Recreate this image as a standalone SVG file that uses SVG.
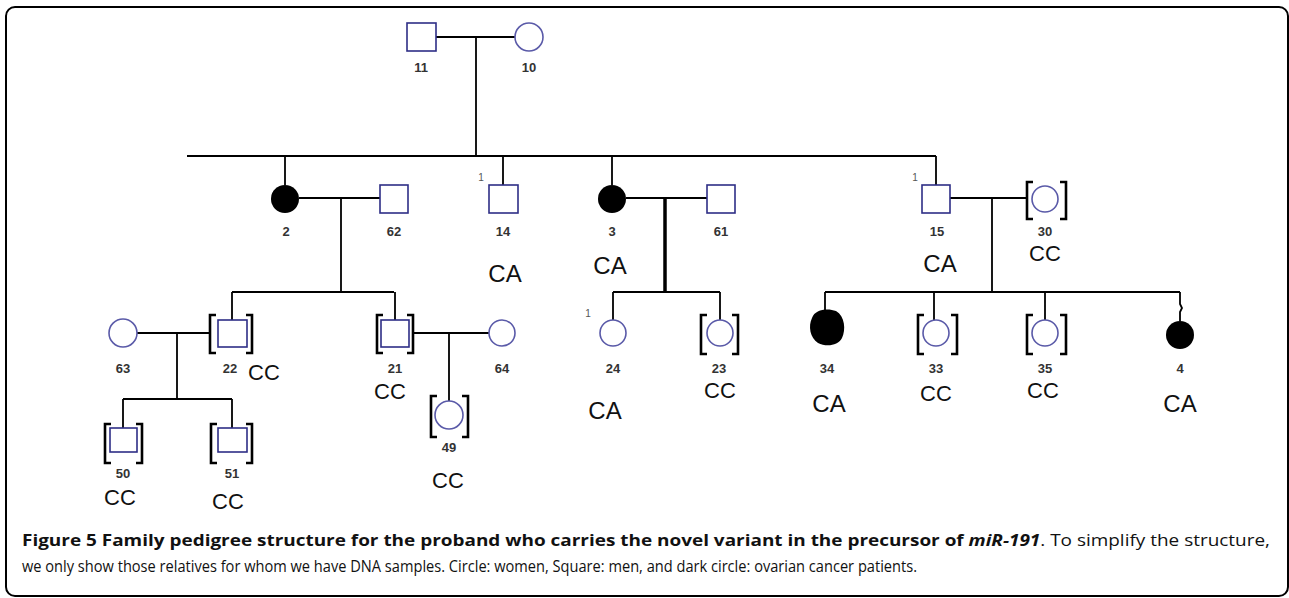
<svg xmlns="http://www.w3.org/2000/svg" width="1289" height="598" viewBox="0 0 1289 598">
<style>
.sq{fill:#fff;stroke:#2e2e86;stroke-width:1.6}
.ci{fill:#fff;stroke:#5a5aa8;stroke-width:1.6}
.aff{fill:#000}
.br{fill:none;stroke:#000;stroke-width:2.6}
.ln{fill:none;stroke:#000;stroke-width:1.8}
.num{font-family:"Liberation Sans",Arial,sans-serif;font-weight:bold;font-size:13px;fill:#333;text-anchor:middle}
.gt{font-family:"Liberation Sans",Arial,sans-serif;font-size:24px;fill:#111;text-anchor:middle}
.gc{font-family:"Liberation Sans",Arial,sans-serif;font-size:22px;fill:#111;text-anchor:middle}
.tick{font-family:"Liberation Sans",Arial,sans-serif;font-size:10px;fill:#555;text-anchor:middle}
.cap{font-family:"Open Sans","Noto Sans",sans-serif;font-size:16.5px;fill:#111}
</style>
<rect x="6" y="7" width="1282" height="589" rx="9" fill="none" stroke="#000" stroke-width="2"/>
<g id="connectors">
<path class="ln" d="M436 37H515M476 37V156M187 156H936"/>
<path class="ln" d="M285 156V185M503 156V185M612 156V185M936 156V185"/>
<path class="ln" d="M299 198H380M341 198V292M232 292H394M232 292V320M395 292V320"/>
<path class="ln" d="M626 198H707M613 292H720M613 292V320M720 292V320"/>
<path class="ln" d="M665 198V292" style="stroke-width:3.5"/>
<path class="ln" d="M950 198H1027M992 198V292M825 292H1180M825 292V312M934 292V320M1045 292V320M1180 292V304L1182 308L1180 312V321"/>
<path class="ln" d="M137 333H210M177 333V399M123 399H232M123 399V428M232 399V428"/>
<path class="ln" d="M413 333H489M449 333V401"/>
</g>
<g id="n11"><rect class="sq" x="407" y="23" width="29" height="28"/><text class="num" x="421" y="72">11</text></g>
<g id="n10"><circle class="ci" cx="529" cy="37" r="14"/><text class="num" x="529" y="72">10</text></g>
<g id="n2"><circle class="aff" cx="285" cy="199" r="14"/><circle class="aff" cx="280" cy="196" r="8"/><text class="num" x="286" y="236">2</text></g>
<g id="n62"><rect class="sq" x="380" y="185" width="28" height="28"/><text class="num" x="394" y="236">62</text></g>
<g id="n14"><rect class="sq" x="489" y="185" width="29" height="28"/><text class="tick" x="481" y="181">1</text><text class="num" x="503" y="236">14</text><text class="gt" x="505" y="282">CA</text></g>
<g id="n3"><circle class="aff" cx="612" cy="199" r="14"/><text class="num" x="612" y="236">3</text><text class="gt" x="610" y="274">CA</text></g>
<g id="n61"><rect class="sq" x="707" y="185" width="28" height="28"/><text class="num" x="721" y="236">61</text></g>
<g id="n15"><rect class="sq" x="922" y="185" width="28" height="28"/><text class="tick" x="915" y="181">1</text><text class="num" x="937" y="236">15</text><text class="gt" x="940" y="272">CA</text></g>
<g id="n30"><circle class="ci" cx="1045" cy="199" r="13"/><path class="br" d="M1033 182H1027V219H1033M1060 182H1066V219H1060"/><text class="num" x="1045" y="236">30</text><text class="gc" x="1045" y="261">CC</text></g>
<g id="n63"><circle class="ci" cx="123" cy="333" r="14"/><text class="num" x="123" y="373">63</text></g>
<g id="n22"><rect class="sq" x="218" y="320" width="29" height="27"/><path class="br" d="M216 315H210V353H216M246 315H252V353H246"/><text class="num" x="230" y="373">22</text><text class="gc" x="264" y="380">CC</text></g>
<g id="n21"><rect class="sq" x="381" y="320" width="28" height="27"/><path class="br" d="M383 315H377V353H383M407 315H413V353H407"/><text class="num" x="395" y="373">21</text><text class="gc" x="390" y="399">CC</text></g>
<g id="n64"><circle class="ci" cx="502" cy="333" r="13"/><text class="num" x="502" y="373">64</text></g>
<g id="n49"><circle class="ci" cx="449" cy="415" r="14"/><path class="br" d="M437 396H431V437H437M462 396H468V437H462"/><text class="num" x="449" y="452">49</text><text class="gc" x="448" y="488">CC</text></g>
<g id="n24"><circle class="ci" cx="613" cy="333" r="13"/><text class="tick" x="588" y="317">1</text><text class="num" x="613" y="373">24</text><text class="gt" x="605" y="419">CA</text></g>
<g id="n23"><circle class="ci" cx="720" cy="333" r="13"/><path class="br" d="M707 315H701V354H707M732 315H738V354H732"/><text class="num" x="719" y="373">23</text><text class="gc" x="720" y="398">CC</text></g>
<g id="n34"><path class="aff" d="M812 318C815 309 828 308 836 311C845 316 846 330 842 338C838 346 826 347 818 343C810 338 808 326 812 318Z"/><text class="num" x="827" y="373">34</text><text class="gt" x="829" y="412">CA</text></g>
<g id="n33"><circle class="ci" cx="936" cy="333" r="13"/><path class="br" d="M924 315H918V354H924M951 315H957V354H951"/><text class="num" x="936" y="373">33</text><text class="gc" x="936" y="401">CC</text></g>
<g id="n35"><circle class="ci" cx="1045" cy="333" r="13"/><path class="br" d="M1033 315H1027V354H1033M1060 315H1066V354H1060"/><text class="num" x="1045" y="373">35</text><text class="gc" x="1043" y="398">CC</text></g>
<g id="n4"><circle class="aff" cx="1180" cy="335" r="14"/><text class="num" x="1180" y="373">4</text><text class="gt" x="1180" y="412">CA</text></g>
<g id="n50"><rect class="sq" x="110" y="428" width="27" height="24"/><path class="br" d="M111 424H105V463H111M136 424H142V463H136"/><text class="num" x="123" y="478">50</text><text class="gc" x="120" y="505">CC</text></g>
<g id="n51"><rect class="sq" x="218" y="428" width="29" height="24"/><path class="br" d="M217 424H211V463H217M246 424H252V463H246"/><text class="num" x="232" y="478">51</text><text class="gc" x="228" y="509">CC</text></g>
<text class="cap" x="22" y="546" textLength="1248" lengthAdjust="spacingAndGlyphs"><tspan font-weight="bold">Figure 5 Family pedigree structure for the proband who carries the novel variant in the precursor of </tspan><tspan font-weight="bold" font-style="italic">miR-191</tspan>. To simplify the structure,</text>
<text class="cap" x="22" y="572" textLength="895" lengthAdjust="spacingAndGlyphs">we only show those relatives for whom we have DNA samples. Circle: women, Square: men, and dark circle: ovarian cancer patients.</text>
</svg>
